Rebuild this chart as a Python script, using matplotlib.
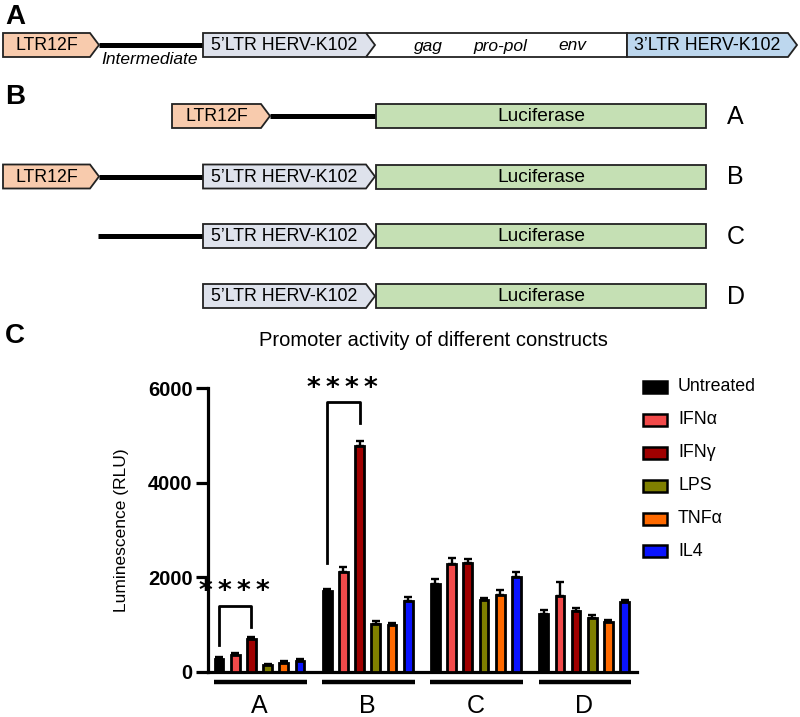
import matplotlib
matplotlib.use("Agg")
import matplotlib.pyplot as plt
from matplotlib.patches import Polygon, Rectangle
import numpy as np

plt.rcParams['font.family'] = ['Liberation Sans', 'DejaVu Sans']

# ---------------- data ----------------
constructs = ["A", "B", "C", "D"]
treatments = ["Untreated", "IFNα", "IFNγ", "LPS", "TNFα", "IL4"]
colors = ["#000000", "#F24A4A", "#A00000", "#7F7F00", "#FF6A00", "#0A14FF"]
means = [
    [265, 350, 690, 140, 180, 235],      # A
    [1700, 2110, 4780, 1005, 985, 1490],  # B
    [1860, 2280, 2310, 1520, 1620, 2010], # C
    [1215, 1610, 1280, 1130, 1060, 1470], # D
]
errors = [
    [40, 40, 35, 20, 40, 40],
    [60, 115, 110, 60, 50, 100],
    [110, 125, 85, 40, 115, 105],
    [85, 285, 65, 75, 45, 45],
]
yticks = [0, 2000, 4000, 6000]
title = "Promoter activity of different constructs"
ylabel = "Luminescence (RLU)"

W, H = 800, 717
fig = plt.figure(figsize=(W / 100, H / 100), dpi=100)

# ---------------- schematic overlay (pixel coordinates) ----------------
ov = fig.add_axes([0, 0, 1, 1])
ov.set_xlim(0, W)
ov.set_ylim(H, 0)
ov.axis("off")

LTR12F_C = "#F8CBAD"
LTR5_C = "#DEE2EC"
LTR3_C = "#BDD7EE"
LUC_C = "#C5E0B4"
EDGE = "#222222"


def arrow_box(x0, x1, yc, fc, label, h=24, tip=9, fs=12.8):
    pts = [(x0, yc - h / 2), (x1 - tip, yc - h / 2), (x1, yc),
           (x1 - tip, yc + h / 2), (x0, yc + h / 2)]
    ov.add_patch(Polygon(pts, closed=True, fc=fc, ec=EDGE, lw=1.3, zorder=3))
    ov.text((x0 + x1 - tip) / 2, yc + 0.5, label, ha="center", va="center",
            fontsize=fs, zorder=4)


def rect_box(x0, x1, yc, fc, label=None, h=24, fs=13.8):
    ov.add_patch(Rectangle((x0, yc - h / 2), x1 - x0, h, fc=fc, ec=EDGE,
                           lw=1.3, zorder=2))
    if label:
        ov.text((x0 + x1) / 2, yc + 0.5, label, ha="center", va="center",
                fontsize=fs, zorder=4)


def link(x0, x1, yc):
    ov.plot([x0, x1], [yc, yc], color="black", lw=3.6, solid_capstyle="butt",
            zorder=1)


# Panel letters
ov.text(5, 17, "A", fontsize=20, fontweight="bold", va="center", ha="left")
ov.text(5, 97, "B", fontsize=20, fontweight="bold", va="center", ha="left")
ov.text(5, 336, "C", fontsize=20, fontweight="bold", va="center", ha="left")

# Panel A
yA = 45
arrow_box(3, 99, yA, LTR12F_C, "LTR12F")
link(99, 203, yA)
ov.text(150, 59, "Intermediate", fontsize=12.5, style="italic",
        ha="center", va="center")
rect_box(367, 627, yA, "white")
arrow_box(203, 375, yA, LTR5_C, "5’LTR HERV-K102")
for lab, xc in [("gag", 428), ("pro-pol", 500), ("env", 572)]:
    ov.text(xc, yA + 1, lab, fontsize=12.5, style="italic", ha="center",
            va="center")
arrow_box(627, 797, yA, LTR3_C, "3’LTR HERV-K102")

# Panel B
rows = [116, 176.5, 236, 296]
# row A
arrow_box(172, 270, rows[0], LTR12F_C, "LTR12F")
link(270, 376, rows[0])
# row B
arrow_box(3, 99, rows[1], LTR12F_C, "LTR12F")
link(99, 203, rows[1])
arrow_box(203, 375, rows[1], LTR5_C, "5’LTR HERV-K102")
# row C
link(98, 203, rows[2])
arrow_box(203, 375, rows[2], LTR5_C, "5’LTR HERV-K102")
# row D
arrow_box(203, 375, rows[3], LTR5_C, "5’LTR HERV-K102")
for yc, lab in zip(rows, constructs):
    rect_box(376, 706, yc, LUC_C, "Luciferase")
    ov.text(727, yc + 1, lab, fontsize=18, ha="left", va="center")

# Title
ov.text(433, 341, title, fontsize=14.5, ha="center", va="center")

# Legend (manual)
leg_y = [386.7, 420, 452.5, 486, 518.7, 551.3]
for yc, lab, c in zip(leg_y, treatments, colors):
    ov.add_patch(Rectangle((643, yc - 6), 24, 12, fc=c, ec="black", lw=1.8))
    ov.text(678, yc, lab, fontsize=12.8, ha="left", va="center")

# ---------------- bar chart ----------------
ax_left, ax_right = 208, 637
ax_bot, ax_top = 671.7, 388.3
ax = fig.add_axes([ax_left / W, 1 - ax_bot / H, (ax_right - ax_left) / W,
                   (ax_bot - ax_top) / H])
ax.patch.set_alpha(0)

gstep = 6.68
bw = 0.54
for gi, (m, e) in enumerate(zip(means, errors)):
    xs = gi * gstep + np.arange(len(treatments))
    for j in range(len(treatments)):
        ax.bar(xs[j], m[j], width=bw, color=colors[j], edgecolor="black",
               linewidth=2.0, zorder=3)
        ax.errorbar(xs[j], m[j], yerr=[[0], [e[j]]], fmt="none",
                    ecolor="black", elinewidth=1.7, capsize=2.8,
                    capthick=1.7, zorder=2)
    # group underline and label
    ax.plot([xs[0] - 0.31, xs[-1] + 0.41], [-212, -212], color="black",
            lw=3.2, clip_on=False, solid_capstyle="butt")
    ax.text((xs[0] + xs[-1]) / 2, -735, constructs[gi], fontsize=18,
            ha="center", va="center")

ax.set_xlim(-0.68, 25.8)
ax.set_ylim(0, 6000)
ax.set_yticks(yticks)
ax.set_yticklabels([str(t) for t in yticks], fontsize=14.5, fontweight="bold")
ax.set_xticks([])
for s in ["top", "right"]:
    ax.spines[s].set_visible(False)
for s in ["left", "bottom"]:
    ax.spines[s].set_linewidth(2.3)
ax.tick_params(axis="y", length=9, width=2.3, pad=2)
ax.set_ylabel(ylabel, fontsize=12.5, labelpad=14)


def bracket(gi, j0, j1, ytop, yl, yr, ystar):
    x0 = gi * gstep + j0
    x1 = gi * gstep + j1
    ax.plot([x0, x0, x1, x1], [yl, ytop, ytop, yr], color="black", lw=2.0,
            clip_on=False, zorder=4)
    ax.text((x0 + x1) / 2 - 0.05, ystar, "*\u2009*\u2009*\u2009*",
            fontsize=19, fontweight="bold", family="DejaVu Sans",
            ha="center", va="center", clip_on=False)


bracket(0, 0, 2, 1400, 565, 953, 1680)
bracket(1, 0, 2, 5700, 2295, 5272, 5980)

fig.savefig("out.png", dpi=100)
